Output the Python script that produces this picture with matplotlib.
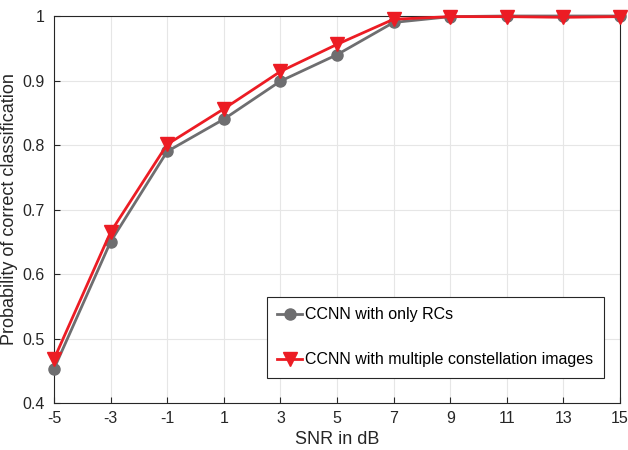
import matplotlib
matplotlib.use("Agg")
import matplotlib.pyplot as plt

plt.rcParams['font.family'] = ['Liberation Sans', 'DejaVu Sans']
plt.rcParams['axes.unicode_minus'] = False

snr = [-5, -3, -1, 1, 3, 5, 7, 9, 11, 13, 15]
acc_rc = [0.453, 0.650, 0.790, 0.840, 0.899, 0.940, 0.990, 0.999, 1.000, 1.000, 1.000]
acc_multi = [0.468, 0.665, 0.801, 0.856, 0.914, 0.956, 0.995, 0.999, 0.999, 0.998, 0.999]
yticks = [0.4, 0.5, 0.6, 0.7, 0.8, 0.9, 1.0]
ytick_labels = ['0.4', '0.5', '0.6', '0.7', '0.8', '0.9', '1']

fig = plt.figure(figsize=(6.28, 4.5), dpi=100)
ax = fig.add_axes([54 / 628, 47 / 450, 566 / 628, 387 / 450])

ax.plot(snr, acc_rc, color='#6e6e70', lw=2, marker='o', ms=8,
        label='CCNN with only RCs', clip_on=False, zorder=3)
ax.plot(snr, acc_multi, color='#ec1c24', lw=2, marker='v', ms=10,
        label='CCNN with multiple constellation images', clip_on=False, zorder=4)

ax.set_xlim(-5, 15)
ax.set_ylim(0.4, 1.0)
ax.set_xticks(snr)
ax.set_yticks(yticks)
ax.set_yticklabels(ytick_labels)
ax.tick_params(direction='in', labelsize=11.5, colors='#262626', length=4)
ax.tick_params(axis='x', pad=6)
ax.tick_params(axis='y', pad=7)
ax.grid(True, color='#e6e6e6', lw=0.8)
ax.set_axisbelow(True)
for s in ax.spines.values():
    s.set_color('#262626')
    s.set_linewidth(0.8)

ax.set_xlabel('SNR in dB', fontsize=13, color='#262626', labelpad=3)
ax.set_ylabel('Probability of correct classification', fontsize=13, color='#262626', labelpad=3)

leg = ax.legend(loc='lower right', bbox_to_anchor=(0.971, 0.065), fontsize=11.5,
                fancybox=False, framealpha=1, edgecolor='#262626',
                handlelength=1.55, handletextpad=0.2, labelspacing=1.9,
                borderpad=0.65, borderaxespad=0)
leg.get_frame().set_linewidth(0.8)

fig.savefig('out.png', dpi=100)
